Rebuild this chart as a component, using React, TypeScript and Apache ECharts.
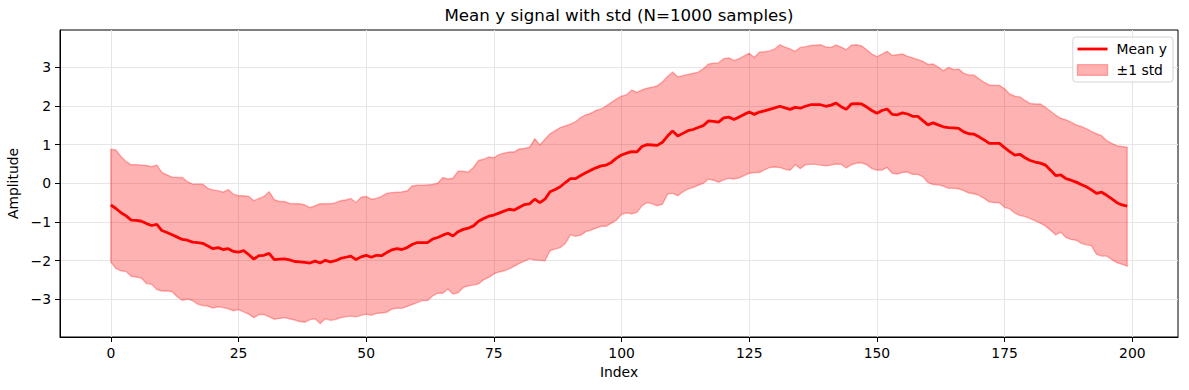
import React, { useEffect, useRef } from "react";
import * as echarts from "echarts";

const FONT = "DejaVu Sans";

const indices: number[] = Array.from({ length: 200 }, (_, i) => i);

const meanY: number[] = [
  -0.56, -0.65, -0.76, -0.84, -0.95, -0.96, -0.98, -1.04, -1.09, -1.06,
  -1.22, -1.27, -1.33, -1.39, -1.45, -1.47, -1.52, -1.53, -1.55, -1.62,
  -1.69, -1.66, -1.71, -1.69, -1.76, -1.78, -1.74, -1.84, -1.96, -1.87,
  -1.86, -1.81, -1.97, -1.96, -1.95, -1.98, -2.02, -2.03, -2.04, -2.06,
  -2.01, -2.06, -1.99, -2.03, -2.0, -1.94, -1.91, -1.88, -1.97, -1.9,
  -1.86, -1.91, -1.86, -1.87, -1.79, -1.72, -1.69, -1.71, -1.66, -1.58,
  -1.53, -1.53, -1.53, -1.44, -1.4, -1.34, -1.29, -1.36, -1.25, -1.19,
  -1.16, -1.1, -0.98, -0.91, -0.85, -0.82, -0.77, -0.72, -0.67, -0.69,
  -0.62, -0.55, -0.53, -0.41, -0.5, -0.41, -0.22, -0.16, -0.09, 0.02,
  0.12, 0.12, 0.2, 0.27, 0.34, 0.4, 0.45, 0.47, 0.54, 0.65,
  0.73, 0.78, 0.82, 0.81, 0.95, 1.0, 0.99, 0.98, 1.06, 1.22,
  1.35, 1.22, 1.29, 1.36, 1.39, 1.44, 1.49, 1.61, 1.6, 1.58,
  1.69, 1.71, 1.65, 1.71, 1.78, 1.84, 1.78, 1.84, 1.87, 1.91,
  1.95, 1.99, 1.95, 1.91, 1.96, 1.94, 1.99, 2.03, 2.03, 2.03,
  1.99, 2.02, 2.07, 1.98, 1.91, 2.05, 2.06, 2.05, 1.97, 1.88,
  1.81, 1.88, 1.92, 1.78, 1.77, 1.82, 1.79, 1.73, 1.73, 1.62,
  1.51, 1.56, 1.51, 1.46, 1.44, 1.43, 1.42, 1.33, 1.28, 1.27,
  1.2, 1.12, 1.03, 1.03, 1.03, 0.92, 0.82, 0.73, 0.75, 0.66,
  0.59, 0.55, 0.52, 0.47, 0.34, 0.2, 0.22, 0.12, 0.08, 0.03,
  -0.03, -0.09, -0.17, -0.26, -0.23, -0.31, -0.4, -0.5, -0.56, -0.59,
];

const upperY: number[] = [
  0.88, 0.86, 0.69, 0.56, 0.48, 0.48, 0.47, 0.46, 0.43, 0.47,
  0.28, 0.22, 0.16, 0.15, 0.15, 0.04, -0.02, -0.02, -0.02, -0.13,
  -0.17, -0.19, -0.23, -0.16, -0.28, -0.32, -0.32, -0.34, -0.45, -0.39,
  -0.34, -0.22, -0.42, -0.47, -0.47, -0.52, -0.53, -0.53, -0.56, -0.63,
  -0.58, -0.53, -0.53, -0.53, -0.5, -0.45, -0.43, -0.39, -0.5, -0.36,
  -0.34, -0.41, -0.39, -0.34, -0.26, -0.24, -0.23, -0.22, -0.2, -0.07,
  -0.05, -0.05, -0.04, -0.03, 0.0, 0.15, 0.11, 0.13, 0.31, 0.31,
  0.29, 0.41, 0.59, 0.62, 0.68, 0.66, 0.74, 0.78, 0.81, 0.81,
  0.89, 0.9, 0.93, 1.15, 0.99, 1.14, 1.28, 1.36, 1.44, 1.48,
  1.53, 1.59, 1.7, 1.77, 1.81, 1.88, 1.92, 2.0, 2.09, 2.18,
  2.25, 2.29, 2.41, 2.35, 2.41, 2.46, 2.48, 2.52, 2.62, 2.76,
  2.87, 2.75, 2.78, 2.81, 2.84, 2.87, 2.96, 3.08, 3.1, 3.11,
  3.22, 3.24, 3.17, 3.22, 3.29, 3.36, 3.25, 3.39, 3.4, 3.42,
  3.47, 3.58, 3.52, 3.47, 3.41, 3.51, 3.53, 3.56, 3.57, 3.58,
  3.52, 3.51, 3.57, 3.52, 3.45, 3.57, 3.58, 3.55, 3.45, 3.34,
  3.27, 3.34, 3.41, 3.3, 3.32, 3.34, 3.28, 3.24, 3.2, 3.15,
  3.07, 3.08, 3.0, 2.91, 2.99, 2.94, 2.95, 2.84, 2.8, 2.8,
  2.7, 2.61, 2.54, 2.53, 2.53, 2.44, 2.31, 2.25, 2.23, 2.14,
  2.06, 2.05, 2.05, 1.96, 1.86, 1.76, 1.68, 1.64, 1.58, 1.51,
  1.47, 1.41, 1.34, 1.28, 1.23, 1.1, 1.03, 0.97, 0.95, 0.93,
];

const lowerY: number[] = [
  -2.03, -2.2, -2.26, -2.28, -2.4, -2.42, -2.45, -2.59, -2.61, -2.74,
  -2.78, -2.78, -2.8, -2.93, -3.02, -2.99, -3.03, -3.12, -3.16, -3.17,
  -3.22, -3.19, -3.21, -3.24, -3.29, -3.26, -3.32, -3.38, -3.47, -3.39,
  -3.39, -3.45, -3.51, -3.49, -3.47, -3.5, -3.53, -3.57, -3.59, -3.52,
  -3.5, -3.62, -3.5, -3.54, -3.52, -3.47, -3.45, -3.43, -3.45, -3.41,
  -3.38, -3.41, -3.36, -3.35, -3.33, -3.25, -3.22, -3.23, -3.18, -3.13,
  -3.08, -3.03, -3.03, -2.91, -2.84, -2.84, -2.73, -2.86, -2.83, -2.69,
  -2.65, -2.63, -2.6, -2.49, -2.43, -2.34, -2.29, -2.26, -2.21, -2.14,
  -2.07, -2.01, -1.95, -1.98, -1.99, -2.0, -1.74, -1.7, -1.66, -1.55,
  -1.33, -1.37, -1.34, -1.25, -1.21, -1.16, -1.11, -1.11, -1.03, -0.95,
  -0.8, -0.76, -0.79, -0.75, -0.58, -0.5, -0.53, -0.58, -0.54, -0.28,
  -0.26, -0.32, -0.22, -0.15, -0.11, -0.05, 0.0, 0.11, 0.08, 0.03,
  0.09, 0.13, 0.11, 0.14, 0.2, 0.26, 0.28, 0.28, 0.35, 0.41,
  0.42, 0.41, 0.36, 0.34, 0.48, 0.38, 0.48, 0.49, 0.49, 0.47,
  0.45, 0.47, 0.5, 0.49, 0.4, 0.48, 0.52, 0.53, 0.48, 0.38,
  0.34, 0.34, 0.41, 0.26, 0.24, 0.28, 0.29, 0.23, 0.23, 0.17,
  0.02, -0.03, -0.04, -0.07, -0.13, -0.13, -0.14, -0.19, -0.25, -0.27,
  -0.31, -0.39, -0.48, -0.5, -0.5, -0.62, -0.66, -0.77, -0.83, -0.86,
  -0.91, -0.97, -1.03, -1.1, -1.21, -1.33, -1.26, -1.4, -1.45, -1.47,
  -1.55, -1.59, -1.61, -1.83, -1.88, -1.88, -1.97, -2.05, -2.09, -2.14,
];

const xTicks: number[] = [0, 25, 50, 75, 100, 125, 150, 175, 200];
const yTicks: number[] = [-3, -2, -1, 0, 1, 2, 3];

const BAND_COLOR = "rgba(255,0,0,0.3)";

export default function App() {
  const ref = useRef<HTMLDivElement>(null);

  useEffect(() => {
    document.body.style.margin = "0";
    if (!ref.current) return;
    const chart = echarts.init(ref.current, null, { renderer: "svg" });

    const textBase = { fontFamily: FONT, color: "#000", fontSize: 13.9 };

    const option: any = {
      animation: false,
      backgroundColor: "#fff",
      textStyle: { fontFamily: FONT },
      title: {
        text: "Mean y signal with std (N=1000 samples)",
        left: 619,
        top: 6,
        textAlign: "center",
        padding: 0,
        textStyle: { fontFamily: FONT, fontSize: 16.7, fontWeight: "normal", color: "#000" },
      },
      legend: {
        orient: "vertical",
        right: 16,
        top: 37,
        itemWidth: 30,
        itemHeight: 14,
        itemGap: 7,
        padding: [5, 6, 5, 4],
        borderColor: "#d5d5d5",
        borderWidth: 1,
        borderRadius: 3,
        backgroundColor: "rgba(255,255,255,0.8)",
        selectedMode: false,
        textStyle: { ...textBase, padding: [0, 0, 0, 4] },
        data: [
          {
            name: "Mean y",
            icon: "path://M0,0H30V2.8H0Z",
            itemStyle: { color: "#ff0000", borderWidth: 0 },
          },
          {
            name: "±1 std",
            icon: "path://M0,0H28V10H0Z",
            itemStyle: { color: BAND_COLOR, borderColor: BAND_COLOR, borderWidth: 1.4 },
          },
        ],
      },
      grid: {
        left: 60,
        right: 11,
        top: 30,
        bottom: 53,
        show: true,
        borderColor: "#000",
        borderWidth: 1,
        outerBoundsMode: "none",
        containLabel: false,
      },
      xAxis: {
        type: "value",
        min: -9.95,
        max: 208.95,
        name: "Index",
        nameLocation: "middle",
        nameGap: 27,
        nameTextStyle: textBase,
        axisLine: { show: true, onZero: false, lineStyle: { color: "#000", width: 1 } },
        axisTick: { show: true, length: 5, customValues: xTicks, lineStyle: { color: "#000" } },
        axisLabel: { customValues: xTicks, margin: 9, ...textBase },
        splitLine: { show: true, lineStyle: { color: "#e6e6e6", width: 1 } },
      },
      yAxis: {
        type: "value",
        min: -3.97,
        max: 3.96,
        name: "Amplitude",
        nameLocation: "middle",
        nameGap: 36,
        nameRotate: 90,
        nameTextStyle: textBase,
        axisLine: { show: true, onZero: false, lineStyle: { color: "#000", width: 1 } },
        axisTick: { show: true, length: 5, customValues: yTicks, lineStyle: { color: "#000" } },
        axisLabel: {
          customValues: yTicks,
          margin: 9,
          ...textBase,
          formatter: (v: number) => (v < 0 ? "\u2212" + Math.abs(v) : String(v)),
        },
        splitLine: { show: true, lineStyle: { color: "#e6e6e6", width: 1 } },
      },
      series: [
        {
          name: "Mean y",
          type: "line",
          data: indices.map((x, i) => [x, meanY[i]]),
          symbol: "none",
          lineStyle: { color: "#ff0000", width: 2.8 },
          itemStyle: { color: "#ff0000" },
          z: 3,
        },
        {
          name: "±1 std",
          type: "custom",
          coordinateSystem: "cartesian2d",
          data: [[0, 0]],
          encode: { x: 0, y: 1 },
          itemStyle: { color: BAND_COLOR },
          silent: true,
          z: 1,
          renderItem: (_params: any, api: any) => {
            const pts: number[][] = [];
            for (let i = 0; i < indices.length; i++) pts.push(api.coord([indices[i], upperY[i]]));
            for (let i = indices.length - 1; i >= 0; i--) pts.push(api.coord([indices[i], lowerY[i]]));
            return {
              type: "polygon",
              shape: { points: pts },
              style: { fill: BAND_COLOR, stroke: BAND_COLOR, lineWidth: 1.4 },
            };
          },
        },
      ],
    };

    chart.setOption(option);
    return () => chart.dispose();
  }, []);

  return <div ref={ref} style={{ width: 1189, height: 390 }} />;
}
